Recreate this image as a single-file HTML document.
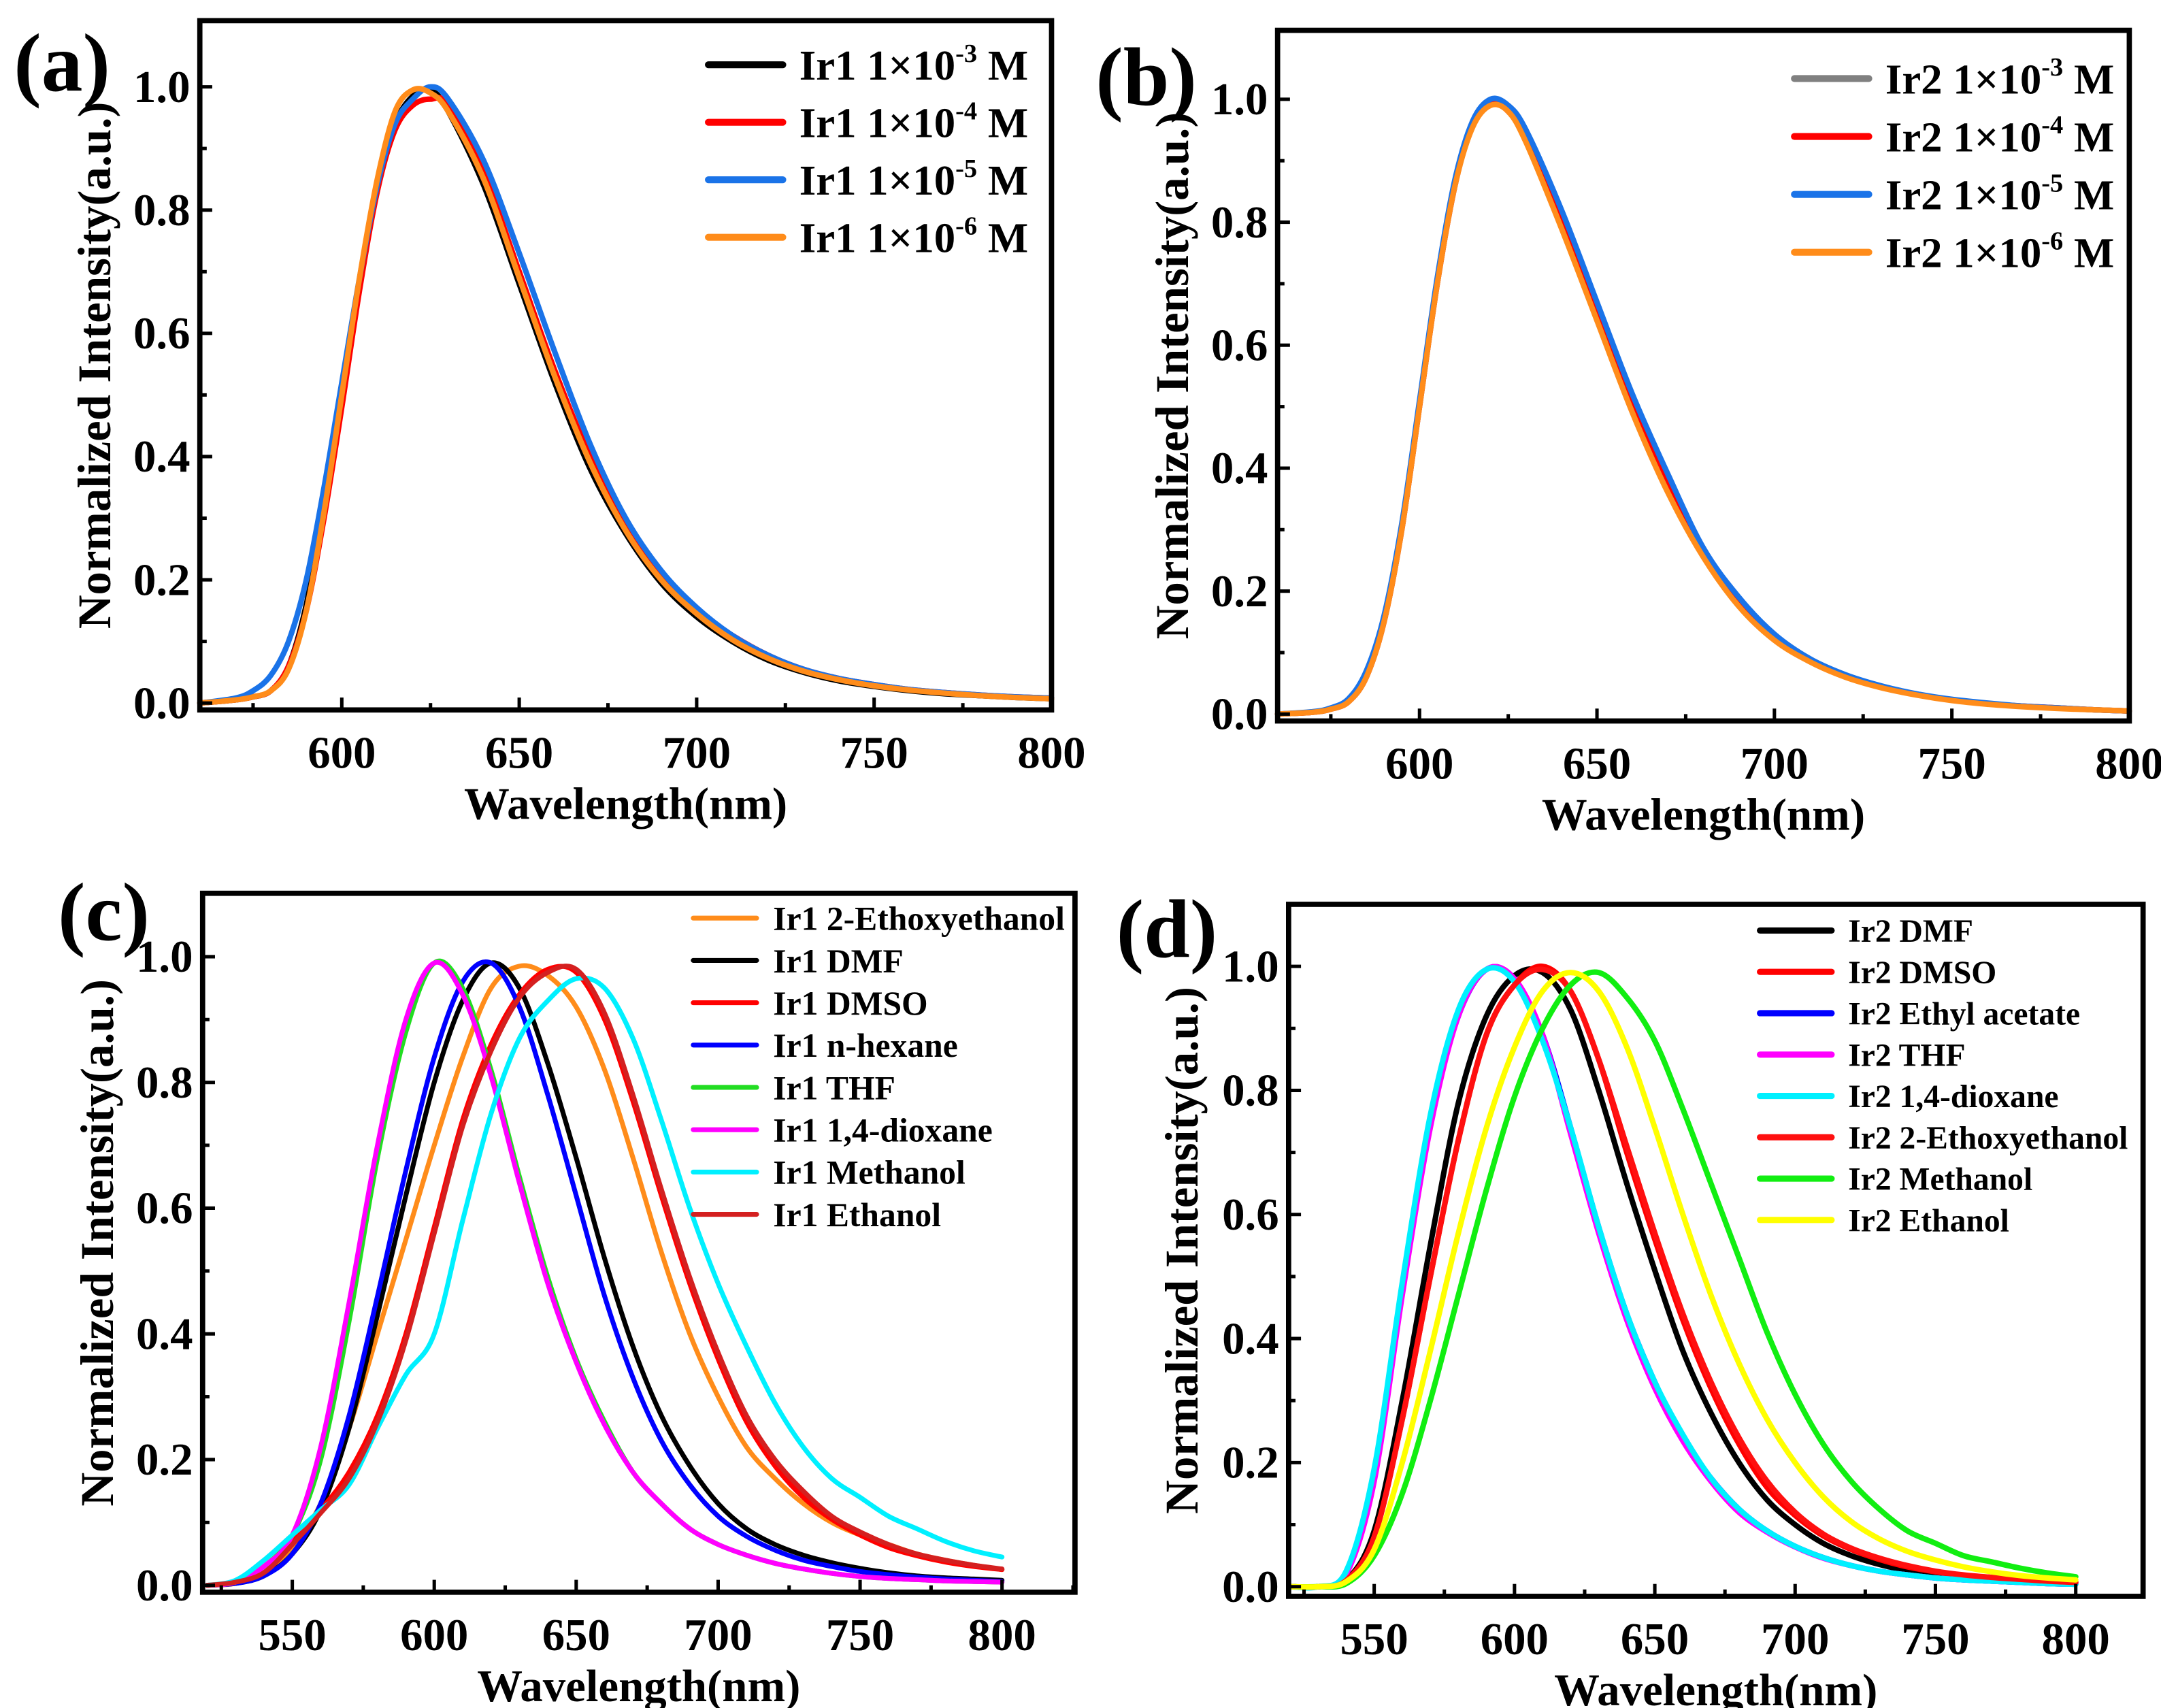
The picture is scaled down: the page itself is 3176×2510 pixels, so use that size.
<!DOCTYPE html>
<html><head><meta charset="utf-8"><style>
html,body{margin:0;padding:0;background:#fff}
svg{display:block}
text{font-family:"Liberation Serif","Times New Roman",serif;font-weight:bold;fill:#000}
</style></head><body>
<svg id="fig" xmlns="http://www.w3.org/2000/svg" width="3176" height="2510" viewBox="0 0 1568 1239" preserveAspectRatio="none"></svg>
<script>
// ---------- data ----------
const xAB = [560,570,575,580,585,590,595,600,605,610,615,620,625,630,640,650,660,670,680,690,700,710,720,730,740,750,760,770,780,790,800];
const aBlack = [0,0.005,0.01,0.02,0.06,0.16,0.32,0.5,0.68,0.84,0.94,0.985,0.995,0.96,0.84,0.68,0.52,0.38,0.275,0.195,0.14,0.1,0.07,0.05,0.036,0.027,0.02,0.015,0.012,0.009,0.007];
const aRed = [0,0.005,0.01,0.02,0.06,0.15,0.3,0.48,0.67,0.83,0.93,0.97,0.98,0.97,0.86,0.7,0.54,0.4,0.29,0.205,0.15,0.11,0.078,0.055,0.04,0.03,0.022,0.017,0.013,0.01,0.008];
const aBlue = [0,0.008,0.02,0.045,0.1,0.2,0.35,0.52,0.69,0.84,0.94,0.98,1.0,0.98,0.88,0.73,0.57,0.42,0.3,0.215,0.155,0.11,0.078,0.055,0.04,0.03,0.022,0.017,0.013,0.01,0.008];
const aOrange = [0,0.005,0.01,0.02,0.055,0.15,0.31,0.5,0.69,0.85,0.96,0.995,0.99,0.96,0.85,0.69,0.53,0.39,0.28,0.2,0.145,0.103,0.073,0.052,0.038,0.028,0.021,0.016,0.012,0.009,0.007];
const bGrey = [0,0.003,0.008,0.02,0.06,0.15,0.3,0.5,0.7,0.86,0.96,1.0,0.985,0.94,0.8,0.65,0.5,0.37,0.26,0.18,0.125,0.088,0.062,0.044,0.032,0.023,0.017,0.013,0.01,0.007,0.005];
const bRed = [0,0.003,0.008,0.02,0.06,0.15,0.3,0.5,0.7,0.86,0.96,0.995,0.98,0.935,0.8,0.65,0.5,0.37,0.26,0.18,0.125,0.088,0.062,0.044,0.032,0.023,0.017,0.013,0.01,0.007,0.005];
const bBlue = [0,0.004,0.01,0.025,0.07,0.16,0.31,0.51,0.71,0.87,0.965,1.0,0.99,0.95,0.82,0.67,0.52,0.39,0.27,0.19,0.13,0.09,0.064,0.046,0.033,0.024,0.018,0.013,0.01,0.007,0.005];
const bOrange = [0,0.003,0.008,0.02,0.06,0.15,0.3,0.5,0.7,0.86,0.955,0.99,0.98,0.93,0.79,0.64,0.49,0.36,0.255,0.175,0.12,0.085,0.06,0.043,0.031,0.022,0.016,0.012,0.009,0.007,0.005];

const xCD = [520,530,540,550,560,570,580,590,600,610,620,630,640,650,660,670,680,690,700,710,720,730,740,750,760,770,780,790,800];
const cEthoxy = [0,0.003,0.02,0.06,0.13,0.25,0.4,0.55,0.7,0.84,0.95,0.985,0.97,0.92,0.82,0.68,0.53,0.4,0.3,0.22,0.17,0.13,0.1,0.08,0.065,0.05,0.04,0.032,0.025];
const cDMF = [0,0.003,0.015,0.05,0.12,0.25,0.43,0.62,0.8,0.93,0.99,0.95,0.83,0.68,0.52,0.38,0.27,0.19,0.13,0.09,0.065,0.048,0.036,0.027,0.02,0.015,0.012,0.01,0.008];
const cDMSO = [0,0.005,0.02,0.07,0.12,0.18,0.27,0.4,0.57,0.74,0.86,0.94,0.98,0.975,0.9,0.77,0.62,0.48,0.36,0.26,0.19,0.14,0.105,0.08,0.06,0.047,0.037,0.03,0.025];
const cHexane = [0,0.003,0.015,0.05,0.13,0.27,0.46,0.66,0.84,0.96,0.99,0.92,0.78,0.62,0.46,0.33,0.23,0.16,0.11,0.078,0.056,0.04,0.03,0.022,0.017,0.013,0.01,0.008,0.006];
const cTHF = [0,0.005,0.03,0.08,0.2,0.42,0.68,0.88,0.99,0.95,0.82,0.65,0.49,0.36,0.26,0.18,0.13,0.09,0.065,0.048,0.035,0.026,0.019,0.014,0.011,0.009,0.007,0.006,0.005];
const cDioxane = [0,0.005,0.03,0.08,0.22,0.45,0.7,0.9,0.99,0.94,0.81,0.64,0.48,0.355,0.255,0.18,0.13,0.09,0.065,0.048,0.035,0.026,0.019,0.014,0.011,0.009,0.007,0.006,0.005];
const cMethanol = [0,0.008,0.04,0.08,0.12,0.16,0.25,0.335,0.4,0.58,0.75,0.87,0.93,0.965,0.95,0.87,0.74,0.6,0.48,0.38,0.29,0.22,0.17,0.14,0.11,0.09,0.07,0.055,0.045];
const cEthanol = [0,0.005,0.02,0.065,0.115,0.17,0.26,0.39,0.56,0.73,0.85,0.935,0.975,0.98,0.91,0.78,0.63,0.49,0.37,0.27,0.2,0.15,0.11,0.085,0.065,0.05,0.04,0.032,0.026];

const dDMF = [0,0,0.01,0.09,0.3,0.55,0.78,0.92,0.985,0.99,0.93,0.8,0.65,0.51,0.38,0.28,0.2,0.14,0.1,0.07,0.05,0.036,0.026,0.019,0.014,0.01,0.008,0.006,0.005];
const dDMSO = [0,0,0.01,0.08,0.27,0.5,0.72,0.89,0.97,1.0,0.96,0.85,0.7,0.56,0.43,0.32,0.23,0.16,0.115,0.082,0.06,0.044,0.032,0.024,0.018,0.014,0.011,0.009,0.007];
const dEthyl = [0,0,0.02,0.18,0.48,0.75,0.92,0.995,0.98,0.89,0.74,0.58,0.44,0.33,0.24,0.175,0.125,0.09,0.065,0.047,0.034,0.025,0.019,0.014,0.011,0.009,0.007,0.005,0.004];
const dTHF = [0,0,0.02,0.17,0.47,0.74,0.92,0.995,0.98,0.89,0.73,0.57,0.43,0.32,0.235,0.17,0.12,0.088,0.064,0.046,0.034,0.025,0.019,0.014,0.011,0.009,0.007,0.005,0.004];
const dDioxane = [0,0,0.025,0.19,0.49,0.76,0.93,0.995,0.975,0.88,0.74,0.58,0.44,0.33,0.245,0.175,0.125,0.09,0.065,0.047,0.034,0.025,0.019,0.014,0.011,0.009,0.007,0.005,0.004];
const dEthoxy = [0,0,0.01,0.08,0.27,0.5,0.72,0.89,0.97,0.995,0.96,0.85,0.71,0.57,0.44,0.33,0.24,0.17,0.12,0.085,0.062,0.046,0.034,0.025,0.019,0.015,0.012,0.009,0.007];
const dMethanol = [0,0,0.005,0.05,0.15,0.3,0.47,0.64,0.79,0.9,0.97,0.99,0.95,0.88,0.77,0.65,0.53,0.41,0.31,0.23,0.17,0.125,0.09,0.07,0.05,0.04,0.03,0.022,0.016];
const dEthanol = [0,0,0.008,0.06,0.2,0.38,0.57,0.74,0.87,0.96,0.99,0.96,0.87,0.74,0.6,0.47,0.36,0.27,0.2,0.145,0.105,0.077,0.057,0.043,0.032,0.024,0.018,0.014,0.011];

const yTicks = [0,0.2,0.4,0.6,0.8,1.0];
const yTickLabels = ["0.0","0.2","0.4","0.6","0.8","1.0"];
const xTicksAB = [600,650,700,750,800];
const xTicksCD = [550,600,650,700,750,800];

// ---------- drawing ----------
const NS="http://www.w3.org/2000/svg";
const svg=document.getElementById('fig');
function mk(tag,attrs,parent){const e=document.createElementNS(NS,tag);for(const k in attrs)e.setAttribute(k,attrs[k]);(parent||svg).appendChild(e);return e;}

function smoothPath(pts){
  let d="M"+pts[0][0].toFixed(2)+","+pts[0][1].toFixed(2);
  for(let i=0;i<pts.length-1;i++){
    const p0=pts[i-1]||pts[i],p1=pts[i],p2=pts[i+1],p3=pts[i+2]||p2;
    const c1x=p1[0]+(p2[0]-p0[0])/6,c1y=p1[1]+(p2[1]-p0[1])/6;
    const c2x=p2[0]-(p3[0]-p1[0])/6,c2y=p2[1]-(p3[1]-p1[1])/6;
    d+=" C"+c1x.toFixed(2)+","+c1y.toFixed(2)+" "+c2x.toFixed(2)+","+c2y.toFixed(2)+" "+p2[0].toFixed(2)+","+p2[1].toFixed(2);
  }
  return d;
}

function panel(cfg){
  const g=mk('g',{});
  
  
  const X=v=>cfg.L+(v-cfg.xmin)/(cfg.xmax-cfg.xmin)*(cfg.R-cfg.L);
  const Y=v=>cfg.y0-(cfg.y0-cfg.y1)*v;
  cfg.series.forEach(s=>{
    const pts=cfg.x.map((xv,i)=>[X(xv),Y(s.v[i])]);
    const p=mk('path',{d:smoothPath(pts),fill:'none',stroke:s.c,'stroke-width':cfg.sw,'stroke-linejoin':'round','stroke-linecap':'round'},g);
    
    
  });
  const fr=mk('rect',{x:cfg.L,y:cfg.T,width:cfg.R-cfg.L,height:cfg.B-cfg.T,fill:'none',stroke:'#000','stroke-width':3.8},g);
  
  
  for(let v=0;v<=1.0001;v+=0.1){
    const major=Math.round(v*10)%2===0;
    mk('line',{x1:cfg.L,x2:cfg.L+(major?9:5),y1:Y(v),y2:Y(v),stroke:'#000','stroke-width':2.5},g);
  }
  yTicks.forEach((v,i)=>{
    const t=mk('text',{x:cfg.L-7,y:Y(v)+11,'text-anchor':'end','font-size':33},g);
    t.textContent=yTickLabels[i];
    
    
  });
  for(let v=cfg.xticks[0]-50;v<=cfg.xmax;v+=25){
    if(v<cfg.xmin)continue;
    const major=cfg.xticks.includes(v);
    mk('line',{x1:X(v),x2:X(v),y1:cfg.B,y2:cfg.B-(major?9:5),stroke:'#000','stroke-width':2.5},g);
  }
  cfg.xticks.forEach(v=>{
    const t=mk('text',{x:X(v),y:cfg.B+42,'text-anchor':'middle','font-size':33},g);
    t.textContent=String(v);
    
    
  });
  const xt=mk('text',{x:(cfg.L+cfg.R)/2,y:cfg.B+79,'text-anchor':'middle','font-size':33},g);
  xt.textContent='Wavelength(nm)';
  
  
  const cy=(cfg.T+cfg.B)/2+cfg.ytOff;
  const yt=mk('text',{x:cfg.ytx,y:cy,'text-anchor':'middle','font-size':34,transform:'rotate(-90 '+cfg.ytx+' '+cy+')'},g);
  yt.textContent='Normalized Intensity(a.u.)';
  
  
  const pl=mk('text',{x:cfg.plx,y:cfg.ply,'font-size':60},g);
  pl.textContent='('+cfg.id+')';
  
  
  cfg.series.forEach((s,i)=>{
    const yy=cfg.lg.y+i*cfg.lg.dy;
    const ln=mk('line',{x1:cfg.lg.x,x2:cfg.lg.x+cfg.lg.len,y1:yy,y2:yy,stroke:s.c,'stroke-width':cfg.lg.sw,'stroke-linecap':'round'},g);
    
    
    const t=mk('text',{x:cfg.lg.x+cfg.lg.len+12,y:yy+cfg.lg.fs*0.35,'font-size':cfg.lg.fs},g);
    
    
    if(s.exp){
      t.appendChild(document.createTextNode(s.label+' 1×10'));
      const sp=mk('tspan',{dy:-13,'font-size':19},t);sp.textContent=s.exp;
      const sp2=mk('tspan',{dy:13},t);sp2.textContent=' M';
    } else t.textContent=s.label;
  });
}

panel({id:'a',L:145,R:763,T:15,B:515,xmin:560,xmax:800,y0:510,y1:63,x:xAB,xticks:xTicksAB,ytx:80,ytOff:0,plx:10,ply:66,sw:4,
  lg:{x:514,y:47,dy:41.7,len:54,sw:5,fs:31},
  series:[{n:'1e-3',label:'Ir1',exp:'-3',c:'#000',v:aBlack},{n:'1e-4',label:'Ir1',exp:'-4',c:'#ff0000',v:aRed},{n:'1e-5',label:'Ir1',exp:'-5',c:'#1a73e8',v:aBlue},{n:'1e-6',label:'Ir1',exp:'-6',c:'#ff8c1a',v:aOrange}]});
panel({id:'b',L:927,R:1545,T:22,B:523,xmin:560,xmax:800,y0:518,y1:72,x:xAB,xticks:xTicksAB,ytx:862,ytOff:0,plx:795,ply:76,sw:4,
  lg:{x:1302,y:57,dy:42,len:54,sw:5,fs:31},
  series:[{n:'1e-3',label:'Ir2',exp:'-3',c:'#808080',v:bGrey},{n:'1e-4',label:'Ir2',exp:'-4',c:'#ff0000',v:bRed},{n:'1e-5',label:'Ir2',exp:'-5',c:'#1a73e8',v:bBlue},{n:'1e-6',label:'Ir2',exp:'-6',c:'#ff8c1a',v:bOrange}]});
panel({id:'c',L:147,R:780,T:648,B:1155,xmin:518.4,xmax:825.7,y0:1150,y1:694,x:xCD,xticks:xTicksCD,ytx:82,ytOff:0,plx:42,ply:682,sw:3.5,
  lg:{x:503,y:666,dy:30.7,len:46,sw:3.5,fs:24.5},
  series:[{n:'ethoxyethanol',label:'Ir1 2-Ethoxyethanol',c:'#ff8c1a',v:cEthoxy},{n:'dmf',label:'Ir1 DMF',c:'#000',v:cDMF},{n:'dmso',label:'Ir1 DMSO',c:'#ff0000',v:cDMSO},{n:'n-hexane',label:'Ir1 n-hexane',c:'#0000ff',v:cHexane},{n:'thf',label:'Ir1 THF',c:'#22dd22',v:cTHF},{n:'dioxane',label:'Ir1 1,4-dioxane',c:'#ff00ff',v:cDioxane},{n:'methanol',label:'Ir1 Methanol',c:'#00f0ff',v:cMethanol},{n:'ethanol',label:'Ir1 Ethanol',c:'#d42020',v:cEthanol}]});
panel({id:'d',L:935,R:1555,T:656,B:1158,xmin:519.5,xmax:824,y0:1151,y1:701,x:xCD,xticks:xTicksCD,ytx:869,ytOff:0,plx:810,ply:694,sw:4,
  lg:{x:1277,y:675,dy:30,len:52,sw:4.5,fs:23.5},
  series:[{n:'dmf',label:'Ir2 DMF',c:'#000',v:dDMF},{n:'dmso',label:'Ir2 DMSO',c:'#ff0000',v:dDMSO},{n:'ethyl-acetate',label:'Ir2 Ethyl acetate',c:'#0000ff',v:dEthyl},{n:'thf',label:'Ir2 THF',c:'#ff00ff',v:dTHF},{n:'dioxane',label:'Ir2 1,4-dioxane',c:'#00f0ff',v:dDioxane},{n:'ethoxyethanol',label:'Ir2 2-Ethoxyethanol',c:'#ff1010',v:dEthoxy},{n:'methanol',label:'Ir2 Methanol',c:'#11ee11',v:dMethanol},{n:'ethanol',label:'Ir2 Ethanol',c:'#ffff00',v:dEthanol}]});
</script>
</body></html>
